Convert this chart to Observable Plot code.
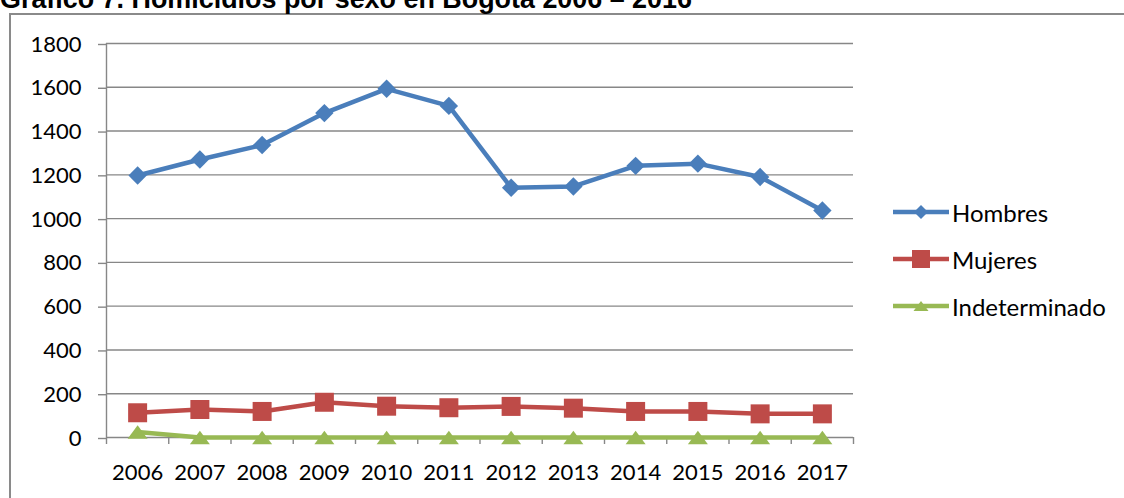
<!DOCTYPE html>
<html>
<head>
<meta charset="utf-8">
<script src="https://cdn.jsdelivr.net/npm/d3@7"></script>
<script src="https://cdn.jsdelivr.net/npm/@observablehq/plot@0.6"></script>
<style>
  html, body { margin: 0; padding: 0; background: #fff; }
  #wrap { position: relative; width: 1124px; height: 498px; overflow: hidden; font-family: Lato, "Open Sans", sans-serif; }
  #border { position: absolute; left: 9px; top: 13px; width: 1300px; height: 700px; border: 2px solid #8a8a8a; box-sizing: border-box; }
  #titlesvg { position: absolute; left: 0; top: 0; }
  #chart { position: absolute; left: 0; top: 0; }
  .leg { position: absolute; left: 893px; height: 24px; display: flex; align-items: center; }
  .leg span { font-family: Lato, sans-serif; font-size: 24px; color: #000; margin-left: 3px; white-space: nowrap; }
</style>
</head>
<body>
<div id="wrap">
  <div id="border"></div>
  <svg id="titlesvg" width="1124" height="20"><text x="0" y="8" font-family="Liberation Sans, Arial, sans-serif" font-weight="bold" font-size="26.9" fill="#000">Gráfico 7. Homicidios por sexo en Bogotá 2006 – 2016</text></svg>
  <div id="chart"></div>
  <div id="legend"></div>
</div>
<script>
// ---- data ----
const years = [2006, 2007, 2008, 2009, 2010, 2011, 2012, 2013, 2014, 2015, 2016, 2017];
const hombres = [1197, 1270, 1336, 1482, 1593, 1515, 1141, 1147, 1241, 1251, 1190, 1037];
const mujeres = [113, 128, 119, 161, 143, 136, 142, 134, 119, 119, 108, 108];
const indeterminado = [25, 0, 0, 0, 0, 0, 0, 0, 0, 0, 0, 0];
const seriesNames = ["Hombres", "Mujeres", "Indeterminado"];
const seriesColors = ["#4A7EBB", "#BE4B48", "#98B954"];
const yTicks = [0, 200, 400, 600, 800, 1000, 1200, 1400, 1600, 1800];

// ---- marker shapes (Excel-like) ----
const diamondSym = { draw(ctx, size) { const r = Math.sqrt(size / Math.PI); ctx.moveTo(0, -r); ctx.lineTo(r, 0); ctx.lineTo(0, r); ctx.lineTo(-r, 0); ctx.closePath(); } };
const squareSym = { draw(ctx, size) { const r = Math.sqrt(size / Math.PI); ctx.moveTo(-r, -r); ctx.lineTo(r, -r); ctx.lineTo(r, r); ctx.lineTo(-r, r); ctx.closePath(); } };
const triangleSym = { draw(ctx, size) { const r = Math.sqrt(size / Math.PI); const h = r * 0.68; ctx.moveTo(0, -h); ctx.lineTo(r, h); ctx.lineTo(-r, h); ctx.closePath(); } };
const symbols = [diamondSym, squareSym, triangleSym];
const symbolR = [9.2, 9.5, 10];

const valuesBySeries = [hombres, mujeres, indeterminado];
const data = [];
seriesNames.forEach((s, i) => years.forEach((y, j) => data.push({ series: s, year: y, value: valuesBySeries[i][j] })));

const boundaries = years.map(y => y - 0.5).concat([years[years.length - 1] + 0.5]);
const xDomain = [boundaries[0], boundaries[boundaries.length - 1]];
const gridColor = "#878787";

const marks = [
  Plot.gridY(yTicks, { stroke: gridColor, strokeOpacity: 1, strokeWidth: 1.4 }),
  Plot.ruleX([xDomain[0]], { stroke: gridColor, strokeWidth: 1.4 }),
  Plot.axisY(yTicks, { tickSize: 8, tickPadding: 17, stroke: gridColor, strokeWidth: 1.4, label: null, fill: "#000", dy: 1, tickFormat: d => String(d) }),
  Plot.axisX(boundaries, { tickSize: 7, tickFormat: () => "", stroke: gridColor, strokeWidth: 1.4, label: null }),
  Plot.axisX(years, { tickSize: 0, tickPadding: 27, tickFormat: d => String(d), label: null, fill: "#000" })
];
seriesNames.forEach((s, i) => {
  const rows = data.filter(d => d.series === s);
  marks.push(Plot.line(rows, { x: "year", y: "value", stroke: "series", strokeWidth: 4.5, strokeLinejoin: "round", strokeLinecap: "butt" }));
  marks.push(Plot.dot(rows, { x: "year", y: "value", fill: "series", stroke: "none", symbol: symbols[i], r: symbolR[i] }));
});

const chart = Plot.plot({
  width: 1124, height: 498,
  marginLeft: 106, marginRight: 271, marginTop: 43, marginBottom: 61,
  x: { type: "linear", domain: xDomain },
  y: { domain: [0, 1800] },
  color: { domain: seriesNames, range: seriesColors },
  style: { fontFamily: "Lato, sans-serif", fontSize: "22px", color: "#000", background: "transparent", overflow: "visible" },
  marks
});
document.getElementById("chart").appendChild(chart);

// ---- legend ----
const legendY = [212, 259, 306];
const legend = document.getElementById("legend");
const legendR = [7, 9, 7.5];
seriesNames.forEach((s, i) => {
  const row = document.createElement("div");
  row.className = "leg";
  row.style.top = (legendY[i] - 12) + "px";
  const svg = d3.create("svg").attr("width", 56).attr("height", 24);
  svg.append("line").attr("x1", 0).attr("x2", 56).attr("y1", 12).attr("y2", 12).attr("stroke", seriesColors[i]).attr("stroke-width", 4.5);
  svg.append("path").attr("transform", "translate(28,12)").attr("fill", seriesColors[i])
    .attr("d", d3.symbol(symbols[i], Math.PI * legendR[i] * legendR[i])());
  row.appendChild(svg.node());
  const t = document.createElement("span");
  t.textContent = s;
  row.appendChild(t);
  legend.appendChild(row);
});
</script>
</body>
</html>
